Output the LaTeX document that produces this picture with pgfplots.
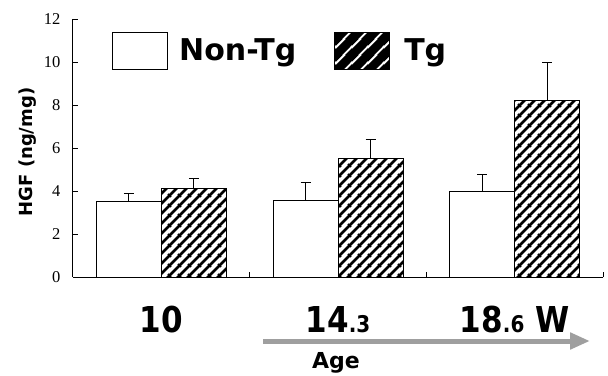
\documentclass[border=0pt]{standalone}
\usepackage{fontspec}
\setmainfont{DejaVu Sans}
\newfontfamily\tickfont{Liberation Serif}
\usepackage{pgfplots}
\pgfplotsset{compat=1.18}
\usetikzlibrary{patterns.meta, arrows.meta}

\tikzdeclarepattern{name=hatchbar, type=uncolored,
  bottom left={(0pt,0pt)}, top right={(10pt,10pt)}, tile size={(10pt,10pt)},
  code={\draw[line width=3pt] (-1pt,-1pt)--(11pt,11pt);
        \draw[line width=3pt] (-1pt,9pt)--(1pt,11pt);
        \draw[line width=3pt] (9pt,-1pt)--(11pt,1pt);}}
\tikzdeclarepattern{name=hatchleg, type=uncolored,
  bottom left={(0pt,0pt)}, top right={(16pt,16pt)}, tile size={(16pt,16pt)},
  code={\draw[line width=9pt] (-2pt,-2pt)--(18pt,18pt);
        \draw[line width=9pt] (-4pt,12pt)--(4pt,20pt);
        \draw[line width=9pt] (12pt,-4pt)--(20pt,4pt);}}

\begin{document}
\begin{tikzpicture}
\useasboundingbox (-73pt,-98pt) rectangle (535pt,277pt);
\begin{axis}[
  scale only axis, width=530pt, height=258pt,
  xmin=0, xmax=3, ymin=0, ymax=12,
  axis lines*=left,
  ybar=0pt, bar width=65pt,
  xtick={1,2,3}, xticklabels={},
  ytick={0,2,...,12},
  yticklabels={0,2,4,6,8,10,12},
  tick align=inside, major tick length=5pt,
  tick style={black, line width=0.8pt},
  axis line style={line width=1pt},
  yticklabel style={font=\tickfont\fontsize{16.5}{17}\selectfont, anchor=east, xshift=-9pt},
  clip=false,
  legend columns=2,
  legend style={draw=none, fill=none, inner sep=0pt,
    at={(axis description cs:0,1)}, xshift=39pt, yshift=-13pt, anchor=north west,
    font=\fontsize{30}{30}\selectfont\bfseries,
    /tikz/every even column/.append style={column sep=36pt},
    /tikz/every odd column/.append style={column sep=9pt}},
]
\addplot[fill=white, draw=black, line width=1pt,
  legend image code/.code={\draw[fill=white, draw=black, line width=1pt] (0pt,-19pt) rectangle (55pt,18pt);},
  error bars/.cd, y dir=plus, y explicit,
  error bar style={line width=1pt},
  error mark options={rotate=90, mark size=5pt, line width=1pt}]
  coordinates {(0.5,3.5) +- (0,0.4) (1.5,3.55) +- (0,0.85) (2.5,4.0) +- (0,0.75)};
\addplot[pattern=hatchbar, pattern color=black, draw=black, line width=1pt,
  legend image code/.code={\draw[pattern=hatchleg, pattern color=black, draw=black, line width=1pt] (0pt,-19pt) rectangle (55pt,18pt);},
  error bars/.cd, y dir=plus, y explicit,
  error bar style={line width=1pt},
  error mark options={rotate=90, mark size=5pt, line width=1pt}]
  coordinates {(0.5,4.1) +- (0,0.5) (1.5,5.5) +- (0,0.9) (2.5,8.2) +- (0,1.8)};
\legend{Non-Tg, \hspace{3pt}Tg}
\node[anchor=base, yscale=1.15, font=\fontsize{31}{31}\selectfont\bfseries] at ([yshift=-55pt]axis cs:0.5,0) {10};
\node[anchor=base, yscale=1.15, font=\fontsize{31}{31}\selectfont\bfseries] at ([yshift=-55pt]axis cs:1.5,0) {14{\fontsize{20}{20}\selectfont.3}};
\node[anchor=base, yscale=1.15, font=\fontsize{31}{31}\selectfont\bfseries] at ([yshift=-55pt]axis cs:2.5,0) {18{\fontsize{20}{20}\selectfont.6} W};
\end{axis}
\draw[gray!75, line width=5pt, -{Triangle[length=20pt,width=16pt]}] (190pt,-64pt) -- (517pt,-64pt);
\node[anchor=base, font=\fontsize{22}{22}\selectfont\bfseries] at (263pt,-91pt) {Age};
\node[rotate=90, anchor=base, font=\fontsize{18}{18}\selectfont\bfseries] at (-40pt,125pt) {HGF (ng/mg)};
\end{tikzpicture}
\end{document}
